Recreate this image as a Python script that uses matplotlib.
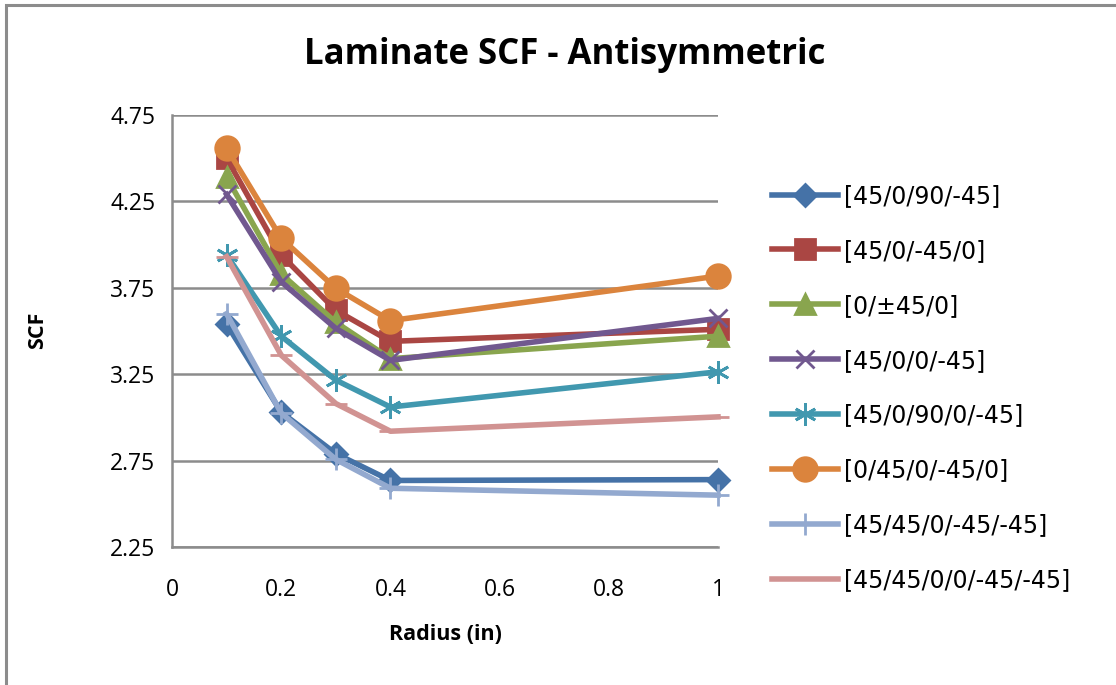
import matplotlib
matplotlib.use("Agg")
import matplotlib.pyplot as plt
from matplotlib.patches import Rectangle

radius = [0.1, 0.2, 0.3, 0.4, 1.0]
labels = ["[45/0/90/-45]", "[45/0/-45/0]", "[0/\u00b145/0]", "[45/0/0/-45]",
          "[45/0/90/0/-45]", "[0/45/0/-45/0]", "[45/45/0/-45/-45]", "[45/45/0/0/-45/-45]"]
s1 = [3.54, 3.03, 2.79, 2.635, 2.64]
s2 = [4.50, 3.94, 3.62, 3.44, 3.51]
s3 = [4.39, 3.83, 3.55, 3.34, 3.47]
s4 = [4.29, 3.785, 3.515, 3.33, 3.573]
s5 = [3.94, 3.47, 3.216, 3.06, 3.264]
s6 = [4.558, 4.037, 3.747, 3.56, 3.818]
s7 = [3.60, 3.025, 2.757, 2.59, 2.55]
s8 = [3.93, 3.36, 3.08, 2.92, 3.003]
series = [s1, s2, s3, s4, s5, s6, s7, s8]
colors = ["#4572A7", "#AA4643", "#89A54E", "#71588F", "#4198AF", "#DB843D", "#93A9CF", "#D19392"]
markers = ["D", "s", "^", "x", (6, 2, 0), "o", "+", "_"]
msizes = [11, 14, 14, 13, 16, 17, 16, 16]

fig = plt.figure(figsize=(11.16, 6.85), dpi=100)
fig.patches.append(Rectangle((6/1116, -0.05), 1.2, 1 - 5/685 + 0.05, transform=fig.transFigure,
                             fill=False, edgecolor="#8c8c8c", linewidth=2.2))
ax = fig.add_axes([172/1116, 1 - 547/685, 546/1116, 432/685])

for ys, lab, c, m, ms in zip(series, labels, colors, markers, msizes):
    ax.plot(radius, ys, color=c, lw=4, marker=m, markersize=ms, label=lab,
            markerfacecolor=c, markeredgecolor=c, markeredgewidth=2, clip_on=False)

ax.set_xlim(0, 1)
ax.set_ylim(2.25, 4.75)
ax.set_xticks([0, 0.2, 0.4, 0.6, 0.8, 1])
ax.set_xticklabels(["0", "0.2", "0.4", "0.6", "0.8", "1"])
ax.set_yticks([2.25, 2.75, 3.25, 3.75, 4.25, 4.75])
ax.grid(axis="y", color="#8c8c8c", lw=1.8)
ax.set_axisbelow(True)
for sp in ["top", "right"]:
    ax.spines[sp].set_visible(False)
for sp in ["left", "bottom"]:
    ax.spines[sp].set_color("#8c8c8c")
    ax.spines[sp].set_linewidth(1.8)
ax.tick_params(axis="both", length=0, labelsize=16.5)
for t in ax.get_xticklabels() + ax.get_yticklabels():
    t.set_fontfamily("Open Sans")
ax.tick_params(axis="y", pad=12)
ax.tick_params(axis="x", pad=22)

fig.text(565/1116, 1 - 55/685, "Laminate SCF - Antisymmetric", ha="center", va="center",
         fontsize=25, fontweight="bold", family="Open Sans")
fig.text(38/1116, 1 - 330/685, "SCF", ha="center", va="center", rotation=90,
         fontsize=15.5, fontweight="bold", family="Open Sans")
fig.text(445/1116, 1 - 635/685, "Radius (in)", ha="center", va="center",
         fontsize=15.5, fontweight="bold", family="Open Sans")

leg = ax.legend(loc="upper left", bbox_to_anchor=(760/1116, 1 - 172/685),
                bbox_transform=fig.transFigure, frameon=False, fontsize=17,
                handlelength=2.8, labelspacing=1.31, handletextpad=0.25, borderpad=0)

fig.savefig("out.png", dpi=100)
